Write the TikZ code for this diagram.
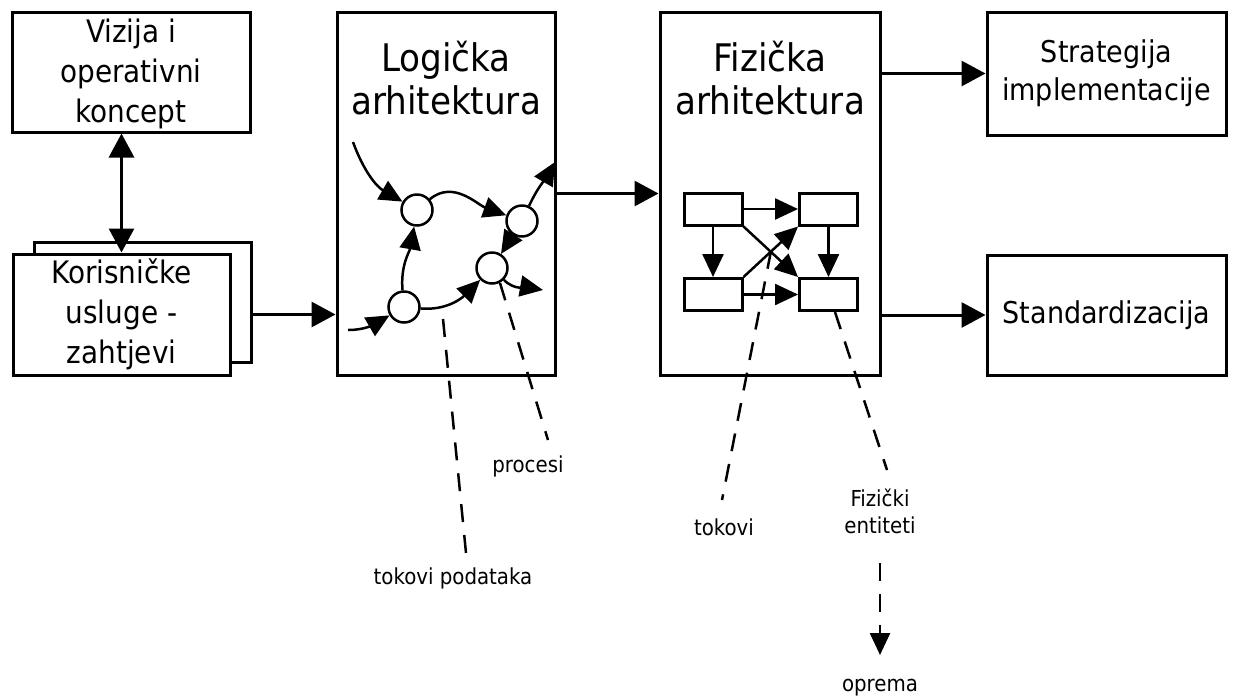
\documentclass[tikz,border=0pt]{standalone}
\usepackage{fontspec}
\setmainfont{DejaVu Sans Condensed}
\usetikzlibrary{arrows.meta}
\begin{document}
\begin{tikzpicture}[x=1pt,y=1pt,
  box/.style={draw, line width=3pt, inner sep=0pt, fill=white, align=center},
  arr/.style={line width=3pt, -{Triangle[length=24pt,width=25pt]}},
  iarr/.style={line width=2.5pt, -{Triangle[length=23pt,width=21pt]}},
  darr/.style={line width=2.5pt, dash pattern=on 18pt off 13pt},
  circ/.style={draw, circle, line width=2.5pt, minimum size=31pt, inner sep=0pt, fill=white},
  smallbox/.style={draw, line width=3pt, minimum width=58pt, minimum height=32pt, inner sep=0pt},
  lbl/.style={font=\fontsize{22}{27}\selectfont, align=center, inner sep=0pt},
  bigtxt/.style={font=\fontsize{38}{43}\selectfont, align=center, inner sep=0pt},
  midtxt/.style={font=\fontsize{31}{40}\selectfont},
]
\useasboundingbox (0,0) rectangle (1239,-697);

% left boxes
\node[box, minimum width=238pt, minimum height=120pt] (viz) at (131,-72) {};
\node[midtxt, align=center, inner sep=0pt] (vizt) at (131,-74) {Vizija i\\operativni\\koncept};
\node[box, minimum width=217pt, minimum height=120pt] (kors) at (142.5,-302) {};
\node[box, midtxt, minimum width=217pt, minimum height=121pt] (kor) at (121.5,-314.5) {Korisničke\\usluge -\\zahtjevi};

% main boxes
\node[box, minimum width=218pt, minimum height=363pt] (log) at (446,-193.5) {};
\node[bigtxt] (logt) at (446,-78) {Logička\\arhitektura};
\node[box, minimum width=220pt, minimum height=363pt] (fiz) at (770,-193.5) {};
\node[bigtxt] (fizt) at (770,-78) {Fizička\\arhitektura};

% right boxes
\node[box, font=\fontsize{30}{38}\selectfont, minimum width=239pt, minimum height=123pt] (str) at (1106.5,-73.5) {Strategija\\implementacije};
\node[box, font=\fontsize{30}{38}\selectfont, minimum width=239pt, minimum height=120pt] (std) at (1106.5,-315) {Standardizacija};

% main connectors
\draw[line width=3pt, {Triangle[length=24pt,width=25pt]}-{Triangle[length=24pt,width=25pt]}] (kor.north |- viz.south) -- (kor.north);
\draw[arr] (kors.east |- kor.east) -- (log.west |- kor.east);
\draw[arr] (log.east) -- (fiz.west);
\draw[arr] (fiz.east |- str.west) -- (str.west);
\draw[arr] (fiz.east |- std.west) -- (std.west);

% logical architecture internals
\node[circ] (c1) at (417,-210) {};
\node[circ] (c2) at (522,-221) {};
\node[circ] (c3) at (492,-268) {};
\node[circ] (c4) at (404,-307) {};
\coordinate (in1) at (353,-142);
\coordinate (in2) at (348,-330);
\coordinate (o1) at (555,-162);
\coordinate (o2) at (543,-290);
\draw[iarr] (in1) to[out=-70, in=150] (c1);
\draw[iarr] (c1) to[out=40, in=160] (c2);
\draw[iarr] (c2) to[out=65, in=-120] (o1);
\draw[iarr] (c4) to[out=95, in=-100] (c1);
\draw[iarr] (in2) to[out=0, in=-150] (c4);
\draw[iarr] (c4) to[out=-5, in=-135] (c3);
\draw[iarr] (c2) -- (c3);
\draw[iarr] (c3) to[out=-45, in=170] (o2);

% physical architecture internals
\node[smallbox] (r1) at (713,-209) {};
\node[smallbox] (r2) at (828.5,-209) {};
\node[smallbox] (r3) at (713,-294.5) {};
\node[smallbox] (r4) at (828.5,-294.5) {};
\draw[iarr] (r1) -- (r2);
\draw[iarr] (r3) -- (r4);
\draw[iarr] (r1) -- (r3);
\draw[iarr] (r2) -- (r4);
\draw[iarr] (r1.south east) -- (r4.north west);
\draw[iarr] (r3.north east) -- (r2.south west);

% dashed pointers and labels
\coordinate (t1s) at (443,-319);
\coordinate (t1e) at (466,-553);
\node[lbl] (t1) at (453,-578) {tokovi podataka};
\draw[darr] (t1s) -- (t1e);

\coordinate (p1s) at (500,-283);
\coordinate (p1e) at (548,-440);
\node[lbl] (p1) at (528,-466) {procesi};
\draw[darr] (p1s) -- (p1e);

\coordinate (t2s) at (771,-251);
\coordinate (t2e) at (722,-500);
\node[lbl] (t2) at (724,-527) {tokovi};
\draw[darr] (t2s) -- (t2e);

\coordinate (f1s) at (835,-312);
\coordinate (f1e) at (887,-470);
\node[lbl] (f1) at (880,-511) {Fizički\\entiteti};
\draw[darr] (f1s) -- (f1e);

\node[lbl] (op) at (880,-688) {oprema};
\coordinate (e1) at (880,-563);
\coordinate (e2) at (880,-655);
\draw[darr, -{Triangle[length=22pt,width=20pt]}] (e1) -- (e2);
\end{tikzpicture}
\end{document}
